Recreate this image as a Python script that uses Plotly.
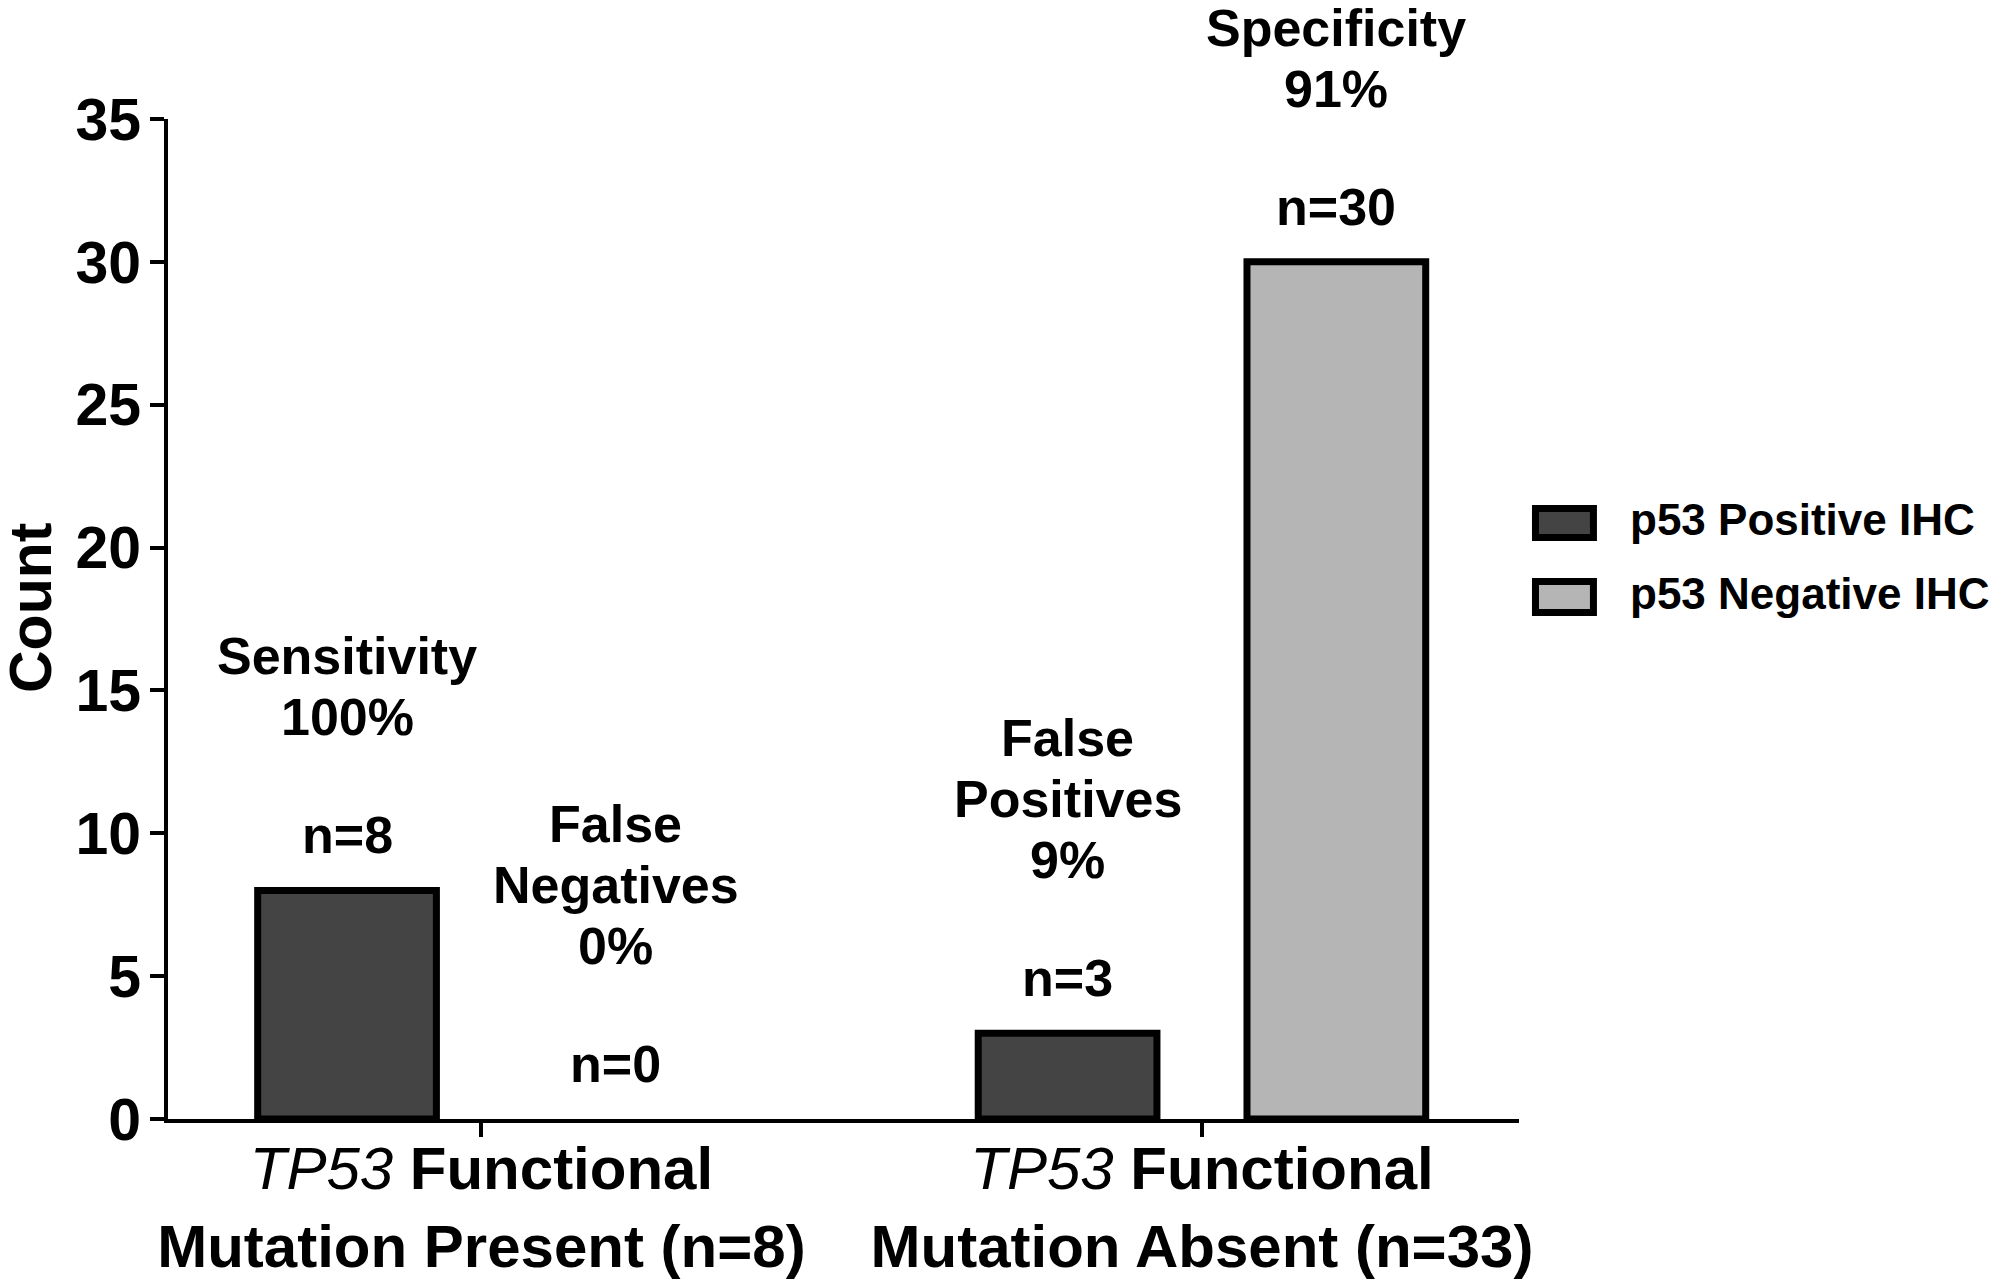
import plotly.graph_objects as go

# ─── Data ─────────────────────────────────────────────────────────────────────
CATEGORIES = [
    "<span style='font-weight:normal'><i>TP53</i></span> Functional<br>Mutation Present (n=8)",
    "<span style='font-weight:normal'><i>TP53</i></span> Functional<br>Mutation Absent (n=33)",
]
SERIES_NAMES = ["p53 Positive IHC", "p53 Negative IHC"]
POSITIVE_COUNTS = [8, 3]
NEGATIVE_COUNTS = [0, 30]
POSITIVE_NOTES = ["Sensitivity<br>100%", "False<br>Positives<br>9%"]
NEGATIVE_NOTES = ["False<br>Negatives<br>0%", "Specificity<br>91%"]
Y_TICKS = [0, 5, 10, 15, 20, 25, 30, 35]
Y_TITLE = "Count"

# ─── Style ────────────────────────────────────────────────────────────────────
FONT = "Liberation Sans, Arial, sans-serif"
COLORS = ["#444444", "#b5b5b5"]
BARGAP = 0.254
BARGROUPGAP = 0.335
EDGE = 7

fig = go.Figure()
for name, counts, color in zip(SERIES_NAMES, [POSITIVE_COUNTS, NEGATIVE_COUNTS], COLORS):
    fig.add_trace(
        go.Bar(
            x=CATEGORIES,
            y=counts,
            name=name,
            marker=dict(
                color=color,
                line=dict(color="black", width=[EDGE if v > 0 else 0 for v in counts]),
            ),
            showlegend=False,
            hoverinfo="skip",
        )
    )

# --- labels above bars --------------------------------------------------------
offset = (1 - BARGAP) / 4  # centre of each bar relative to its category
annotations = []
for i in range(len(CATEGORIES)):
    for sign, counts, notes in [(-1, POSITIVE_COUNTS, POSITIVE_NOTES),
                                (1, NEGATIVE_COUNTS, NEGATIVE_NOTES)]:
        xpos = i + sign * offset
        annotations.append(dict(
            x=xpos, y=counts[i], xref="x", yref="y", text=f"n={counts[i]}",
            showarrow=False, yanchor="middle", yshift=55,
            font=dict(family=FONT, size=52, color="black", weight="bold"),
        ))
        lines = notes[i].split("<br>")
        for k, line in enumerate(reversed(lines)):
            annotations.append(dict(
                x=xpos, y=counts[i], xref="x", yref="y", text=line,
                showarrow=False, yanchor="middle", yshift=173 + k * 61,
                font=dict(family=FONT, size=52, color="black", weight="bold"),
            ))

# --- y title as a rotated annotation (axis titles get squeezed into the margin)
annotations.append(dict(
    x=-0.1014, y=0.511, xref="paper", yref="paper", text=Y_TITLE, showarrow=False,
    textangle=-90, xanchor="center", yanchor="middle",
    font=dict(family=FONT, size=59, color="black", weight="bold"),
))

# --- legend (drawn by hand so swatches match the large boxes) -----------------
shapes = []
legend_rows = [(0.6105, 0.5815, 0.600), (0.5375, 0.5065, 0.526)]
for (y1, y0, ytext), name, color in zip(legend_rows, SERIES_NAMES, COLORS):
    shapes.append(dict(
        type="rect", xref="paper", yref="paper", x0=1.0122, x1=1.0551, y0=y0, y1=y1,
        fillcolor=color, line=dict(color="black", width=EDGE),
    ))
    annotations.append(dict(
        x=1.0807, y=ytext, xref="paper", yref="paper", text=name, showarrow=False,
        xanchor="left", yanchor="middle",
        font=dict(family=FONT, size=44, color="black", weight="bold"),
    ))

# page body has an 8px margin, so the figure is 16px smaller and shifted back
fig.update_layout(
    width=1984,
    height=1271,
    margin=dict(l=160, r=473, t=111, b=160),
    paper_bgcolor="white",
    plot_bgcolor="white",
    barmode="group",
    bargap=BARGAP,
    bargroupgap=BARGROUPGAP,
    font=dict(family=FONT, color="black"),
    annotations=annotations,
    shapes=shapes,
    xaxis=dict(
        type="category",
        range=[-0.435, 1.44],
        automargin=False,
        showline=True, linecolor="black", linewidth=4,
        ticks="outside", ticklen=14, tickwidth=4, tickcolor="black",
        ticklabelstandoff=-20,
        tickfont=dict(family=FONT, size=60, color="black", weight="bold"),
        showgrid=False, zeroline=False,
    ),
    yaxis=dict(
        range=[0, 35],
        tickvals=Y_TICKS,
        automargin=False,
        showline=True, linecolor="black", linewidth=4,
        ticks="outside", ticklen=14, tickwidth=4, tickcolor="black",
        ticklabelstandoff=-3,
        tickfont=dict(family=FONT, size=59, color="black", weight="bold"),
        showgrid=False, zeroline=False,
    ),
)

fig.write_html("out.html")
